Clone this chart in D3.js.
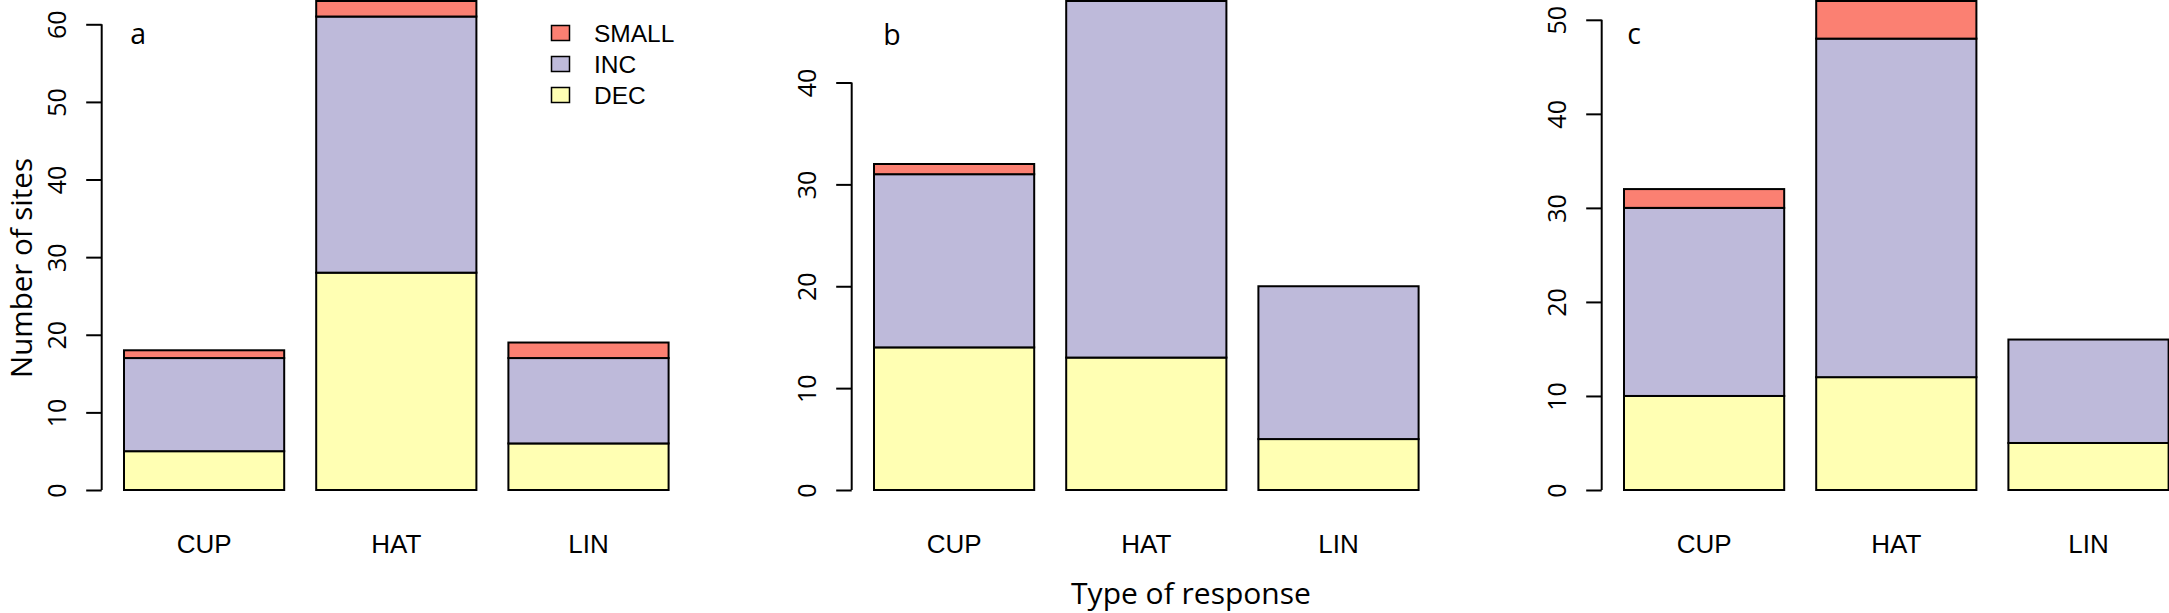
<!DOCTYPE html>
<html>
<head>
<meta charset="utf-8">
<script src="https://cdn.jsdelivr.net/npm/d3@7"></script>
<style>
  html, body { margin: 0; padding: 0; background: #fff; }
  svg { display: block; }
</style>
</head>
<body>
<svg id="chart" width="2169" height="613"></svg>
<script>
// ---- data ----
const categories = ["CUP", "HAT", "LIN"];
const seriesNames = ["DEC", "INC", "SMALL"];
const legendOrder = ["SMALL", "INC", "DEC"];
const panelLabels = ["a", "b", "c"];

const decA = [5, 28, 6];
const incA = [12, 33, 11];
const smallA = [1, 2, 2];

const decB = [14, 13, 5];
const incB = [17, 35, 15];
const smallB = [1, 0, 0];

const decC = [10, 12, 5];
const incC = [20, 36, 11];
const smallC = [2, 4, 0];

const ticksA = [0, 10, 20, 30, 40, 50, 60];
const ticksB = [0, 10, 20, 30, 40];
const ticksC = [0, 10, 20, 30, 40, 50];

const xTitle = "Type of response";
const yTitle = "Number of sites";

// ---- styles / layout ----
const colors = { DEC: "#FFFFB3", INC: "#BEBADA", SMALL: "#FB8072" };
const panelAxisX = [101.7, 851.7, 1601.7];
const firstBarGap = 22.3;
const barStep = 192.2;
const yBottom = 490, yTop = 1;
const labelOffsets = [[28.5, 44], [31.5, 45], [25.5, 44.3]];

const svg = d3.select("#chart");

const panels = [
  { dec: decA, inc: incA, small: smallA, ticks: ticksA },
  { dec: decB, inc: incB, small: smallB, ticks: ticksB },
  { dec: decC, inc: incC, small: smallC, ticks: ticksC }
];

panels.forEach((p, k) => {
  const ax = panelAxisX[k];
  const rows = categories.map((c, i) => ({ cat: c, DEC: p.dec[i], INC: p.inc[i], SMALL: p.small[i] }));
  const stacked = d3.stack().keys(seriesNames)(rows);
  const maxTotal = d3.max(rows, r => r.DEC + r.INC + r.SMALL);

  const x0 = ax + firstBarGap;
  const x = d3.scaleBand()
    .domain(categories)
    .range([x0, x0 + barStep * 3 - barStep * (32 / 192.2)])
    .paddingInner(32 / 192.2)
    .paddingOuter(0);

  const y = d3.scaleLinear().domain([0, maxTotal]).range([yBottom, yTop]);

  const g = svg.append("g");

  // bars
  stacked.forEach(layer => {
    g.append("g")
      .selectAll("rect")
      .data(layer)
      .join("rect")
      .attr("x", d => x(d.data.cat))
      .attr("width", x.bandwidth())
      .attr("y", d => y(d[1]))
      .attr("height", d => y(d[0]) - y(d[1]))
      .attr("fill", colors[layer.key])
      .attr("stroke", "#000")
      .attr("stroke-width", 2);
  });

  // y axis
  const axis = d3.axisLeft(y)
    .tickValues(p.ticks)
    .tickFormat(d3.format("d"))
    .tickSize(15.5)
    .tickSizeOuter(0);
  const ag = g.append("g")
    .attr("transform", `translate(${ax},0)`)
    .call(axis);
  ag.select(".domain").remove();
  ag.append("line")
    .attr("x1", 0).attr("x2", 0)
    .attr("y1", y(p.ticks[0])).attr("y2", y(p.ticks[p.ticks.length - 1]))
    .attr("stroke", "#000").attr("stroke-width", 2);
  ag.selectAll(".tick line").attr("stroke", "#000").attr("stroke-width", 2);
  ag.selectAll(".tick text")
    .attr("x", null).attr("dy", null)
    .attr("transform", "translate(-35.5,0) rotate(-90)")
    .attr("text-anchor", "middle")
    .attr("fill", "#000")
    .style("font-family", "'Open Sans', 'Noto Sans', sans-serif")
    .style("font-size", "25px");

  // category labels
  g.append("g")
    .selectAll("text")
    .data(categories)
    .join("text")
    .attr("x", d => x(d) + x.bandwidth() / 2)
    .attr("y", 552.7)
    .attr("text-anchor", "middle")
    .style("font-family", "'Liberation Sans', Arial, sans-serif")
    .style("font-size", "26px")
    .text(d => d);

  // panel label
  g.append("text")
    .attr("x", ax + labelOffsets[k][0])
    .attr("y", labelOffsets[k][1])
    .style("font-family", "'Open Sans', 'Noto Sans', sans-serif")
    .style("font-size", "28.5px")
    .text(panelLabels[k]);

  // legend in panel a
  if (k === 0) {
    const lg = g.append("g");
    legendOrder.forEach((s, i) => {
      const base = 41.5 + i * 31;
      lg.append("rect")
        .attr("x", 551.5).attr("y", base - 16)
        .attr("width", 18).attr("height", 15)
        .attr("fill", colors[s])
        .attr("stroke", "#000").attr("stroke-width", 1.5);
      lg.append("text")
        .attr("x", 594).attr("y", base)
        .style("font-family", "'Liberation Sans', Arial, sans-serif")
        .style("font-size", "24.5px")
        .text(s);
    });
  }
});

// axis titles
svg.append("text")
  .attr("x", 1191).attr("y", 604)
  .attr("text-anchor", "middle")
  .style("font-family", "'Open Sans', 'Noto Sans', sans-serif")
  .style("font-size", "30px")
  .text(xTitle);

svg.append("text")
  .attr("transform", "translate(31.5,268) rotate(-90)")
  .attr("text-anchor", "middle")
  .style("font-family", "'Open Sans', 'Noto Sans', sans-serif")
  .style("font-size", "29.5px")
  .text(yTitle);
</script>
</body>
</html>
